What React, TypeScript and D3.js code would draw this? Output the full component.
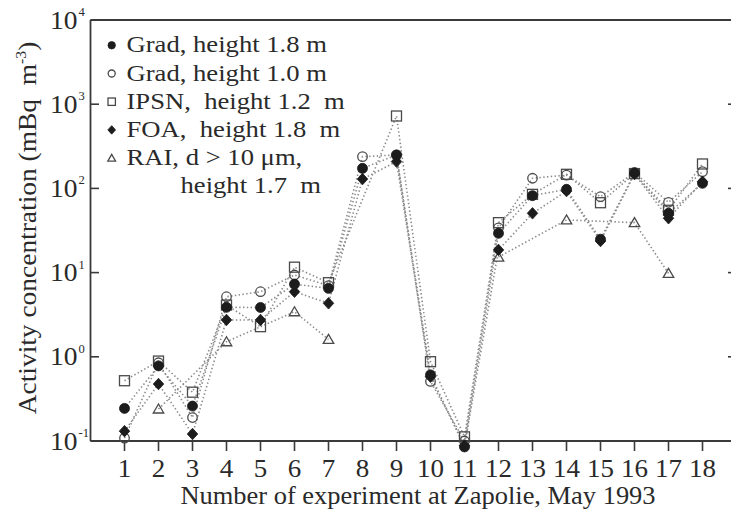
import React from "react";
import * as d3 from "d3";

// Experiment numbers along the x axis
const experiments = d3.range(1, 19);

// Activity concentrations, mBq m^-3 (null = no measurement)
const gradHigh: (number | null)[] = [0.244, 0.78, 0.26, 3.87, 3.85, 7.3, 6.5, 173, 249, 0.61, 0.085, 29.3, 82, 97.5, 24.9, 152, 50.6, 115];
const gradLow: (number | null)[] = [0.108, 0.85, 0.19, 5.17, 5.93, 9.36, 7.0, 238, 250, 0.51, 0.1, 34, 132, 144, 79.7, 155, 68.4, 158];
const ipsn: (number | null)[] = [0.52, 0.89, 0.38, 4.12, 2.28, 11.6, 7.59, null, 724, 0.875, 0.112, 39.2, 85, 147, 67.6, 150, 55, 195];
const foa: (number | null)[] = [0.131, 0.475, 0.121, 2.74, 2.74, 5.93, 4.32, 129, 208, 0.58, 0.088, 18.6, 50.6, 93, 23.7, 148, 44.2, 120];
const rai: (number | null)[] = [null, 0.24, null, 1.51, null, 3.43, 1.61, null, null, null, null, 15.3, null, 42.2, null, 39.2, 9.8, null];

const yTickExponents = [4, 3, 2, 1, 0, -1];

const legendLabels = [
  "Grad, height 1.8 m",
  "Grad, height 1.0 m",
  "IPSN,  height 1.2  m",
  "FOA,  height 1.8  m",
  "RAI, d > 10 \u03bcm,",
];
const legendContinuation = "height 1.7  m";

type Shape = "filledCircle" | "openCircle" | "square" | "diamond" | "triangle";

const series: { values: (number | null)[]; shape: Shape }[] = [
  { values: rai, shape: "triangle" },
  { values: ipsn, shape: "square" },
  { values: gradLow, shape: "openCircle" },
  { values: foa, shape: "diamond" },
  { values: gradHigh, shape: "filledCircle" },
];

const FONT = "'Liberation Serif', 'Times New Roman', serif";
const INK = "#2a2a2a";

function Marker({ shape, x, y, s }: { shape: Shape; x: number; y: number; s: number }) {
  const dark = "#1c1c1c";
  const open = "#4a4a4a";
  switch (shape) {
    case "filledCircle":
      return <circle cx={x} cy={y} r={s} fill={dark} stroke={dark} strokeWidth={0.8} />;
    case "openCircle":
      return <circle cx={x} cy={y} r={s * 0.95} fill="none" stroke={open} strokeWidth={1.3} />;
    case "square":
      return <rect x={x - s} y={y - s} width={2 * s} height={2 * s} fill="none" stroke={open} strokeWidth={1.3} />;
    case "diamond": {
      const w = s * 1.05;
      const h = s * 1.15;
      return <path d={`M${x},${y - h}L${x + w},${y}L${x},${y + h}L${x - w},${y}Z`} fill={dark} stroke={dark} strokeWidth={0.8} />;
    }
    case "triangle": {
      const w = s * 1.05;
      return <path d={`M${x},${y - s}L${x + w},${y + s * 0.8}L${x - w},${y + s * 0.8}Z`} fill="none" stroke={open} strokeWidth={1.3} />;
    }
  }
}

// Serif text with a slight horizontal stretch
function T({
  x,
  y,
  size,
  stretch,
  anchor = "start",
  rotate = 0,
  children,
}: {
  x: number;
  y: number;
  size: number;
  stretch: number;
  anchor?: "start" | "middle" | "end";
  rotate?: number;
  children: React.ReactNode;
}) {
  return (
    <text
      transform={`translate(${x},${y}) rotate(${rotate}) scale(${stretch},1)`}
      textAnchor={anchor}
      fontFamily={FONT}
      fontSize={size}
      fill={INK}
      style={{ whiteSpace: "pre" }}
    >
      {children}
    </text>
  );
}

export default function App() {
  const width = 731;
  const height = 514;
  const left = 90.5;
  const top = 20;
  const bottom = 441;

  const x = d3.scaleLinear().domain([0, 19]).range([left, 736.5]);
  const y = d3.scaleLog().domain([0.1, 10000]).range([bottom, top]);
  const right = x(19);

  // Join measured points; bridge single missing experiments only
  const segmentsOf = (vals: (number | null)[]) => {
    const pts = vals
      .map((v, i) => (v == null ? null : { i, v }))
      .filter((p): p is { i: number; v: number } => p !== null);
    const segs: { i: number; v: number }[][] = [];
    pts.forEach((p, k) => {
      if (k === 0 || p.i - pts[k - 1].i > 2) segs.push([p]);
      else segs[segs.length - 1].push(p);
    });
    return segs;
  };

  const line = d3
    .line<{ i: number; v: number }>()
    .x((d) => x(experiments[d.i]))
    .y((d) => y(d.v));

  const legendShapes: Shape[] = ["filledCircle", "openCircle", "square", "diamond", "triangle"];

  return (
    <svg width={width} height={height} style={{ position: "absolute", left: 0, top: 0, background: "#fff" }}>
      {/* dotted connecting lines */}
      {series.map((s, si) =>
        segmentsOf(s.values).map((seg, k) => (
          <path
            key={`l${si}-${k}`}
            d={line(seg) ?? ""}
            fill="none"
            stroke="#8a8a8a"
            strokeWidth={1.6}
            strokeDasharray="1.4 2.4"
          />
        ))
      )}

      {/* frame */}
      <g stroke="#3a3a3a" strokeWidth={1.8} fill="none">
        <line x1={left} y1={top} x2={right} y2={top} />
        <line x1={left} y1={bottom} x2={right} y2={bottom} />
        <line x1={left} y1={top} x2={left} y2={bottom} />
        <line x1={right} y1={top} x2={right} y2={bottom} />
      </g>

      {/* y ticks and labels */}
      {yTickExponents.map((e) => {
        const yy = y(Math.pow(10, e));
        return (
          <g key={`yt${e}`}>
            <line x1={left} x2={left + 8.5} y1={yy} y2={yy} stroke="#3a3a3a" strokeWidth={1.6} />
            <line x1={right - 8.5} x2={right} y1={yy} y2={yy} stroke="#3a3a3a" strokeWidth={1.6} />
            <T x={77.5} y={yy + 8.5} size={25} stretch={1.1} anchor="end">
              10
            </T>
            <T x={78.5} y={yy - 4} size={12} stretch={1.05}>
              {e}
            </T>
          </g>
        );
      })}

      {/* x ticks and labels */}
      {experiments.map((n) => (
        <g key={`xt${n}`}>
          <line x1={x(n)} x2={x(n)} y1={bottom} y2={bottom + 10} stroke="#3a3a3a" strokeWidth={1.6} />
          <T x={x(n)} y={477} size={25} stretch={1.08} anchor="middle">
            {n}
          </T>
        </g>
      ))}

      <T x={418} y={504} size={24.5} stretch={1.08} anchor="middle">
        Number of experiment at Zapolie, May 1993
      </T>

      <T x={36} y={228} size={24.5} stretch={1.12} anchor="middle" rotate={-90}>
        {"Activity concentration (mBq  m"}
        <tspan dy={-10} fontSize={14}>-3</tspan>
        <tspan dy={10}>)</tspan>
      </T>

      {/* markers */}
      {series.map((s, si) =>
        s.values.map((v, i) =>
          v == null ? null : (
            <Marker key={`m${si}-${i}`} shape={s.shape} x={x(experiments[i])} y={y(v)} s={5} />
          )
        )
      )}

      {/* legend */}
      {legendLabels.map((label, k) => {
        const base = 52.3 + k * 28.2;
        return (
          <g key={`lg${k}`}>
            <Marker shape={legendShapes[k]} x={111.7} y={base - 7} s={3.7} />
            <T x={126.5} y={base} size={24} stretch={1.11}>
              {label}
            </T>
          </g>
        );
      })}
      <T x={180.5} y={52.3 + 5 * 28.2} size={24} stretch={1.11}>
        {legendContinuation}
      </T>
    </svg>
  );
}
